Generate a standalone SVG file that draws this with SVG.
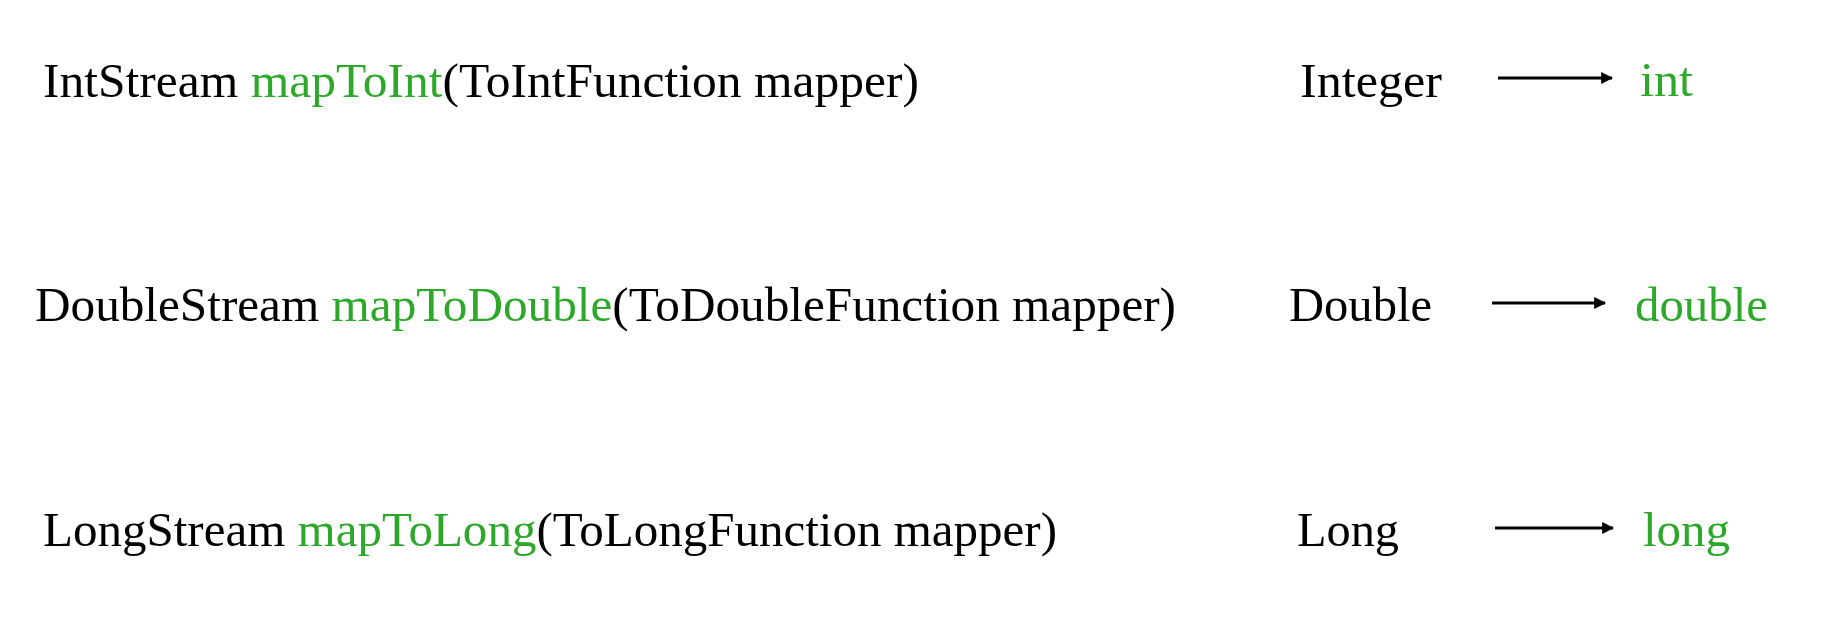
<svg xmlns="http://www.w3.org/2000/svg" width="1831" height="622" viewBox="0 0 1831 622">
<defs>
<style>
text{font-family:"Liberation Serif","Times New Roman",serif;font-size:48px;fill:#000}
.g{fill:#2ea82a}
.c{stroke:#000;stroke-width:3;fill:none}
</style>
<marker id="ah" viewBox="0 0 10 10" refX="9" refY="5" markerWidth="4" markerHeight="4" orient="auto" markerUnits="strokeWidth">
<path d="M0,0 L10,5 L0,10 z" fill="#000"/>
</marker>
</defs>
<rect width="1831" height="622" fill="#fff"/>
<g id="row1-method"><text x="43" y="97" textLength="876" lengthAdjust="spacingAndGlyphs">IntStream <tspan class="g">mapToInt</tspan>(ToIntFunction mapper)</text></g>
<g id="row1-from"><text x="1300" y="97" textLength="142" lengthAdjust="spacingAndGlyphs">Integer</text></g>
<g id="row1-to"><text class="g" x="1640" y="96" textLength="53" lengthAdjust="spacingAndGlyphs">int</text></g>
<g id="row2-method"><text x="35" y="321" textLength="1141" lengthAdjust="spacingAndGlyphs">DoubleStream <tspan class="g">mapToDouble</tspan>(ToDoubleFunction mapper)</text></g>
<g id="row2-from"><text x="1289" y="321" textLength="143" lengthAdjust="spacingAndGlyphs">Double</text></g>
<g id="row2-to"><text class="g" x="1635" y="321" textLength="133" lengthAdjust="spacingAndGlyphs">double</text></g>
<g id="row3-method"><text x="43" y="546" textLength="1014" lengthAdjust="spacingAndGlyphs">LongStream <tspan class="g">mapToLong</tspan>(ToLongFunction mapper)</text></g>
<g id="row3-from"><text x="1297" y="546" textLength="102" lengthAdjust="spacingAndGlyphs">Long</text></g>
<g id="row3-to"><text class="g" x="1643" y="546" textLength="87" lengthAdjust="spacingAndGlyphs">long</text></g>
<g id="connectors">
<line class="c" x1="1498" y1="78" x2="1612" y2="78" marker-end="url(#ah)"/>
<line class="c" x1="1492" y1="303" x2="1605" y2="303" marker-end="url(#ah)"/>
<line class="c" x1="1495" y1="528" x2="1613" y2="528" marker-end="url(#ah)"/>
</g>
</svg>
